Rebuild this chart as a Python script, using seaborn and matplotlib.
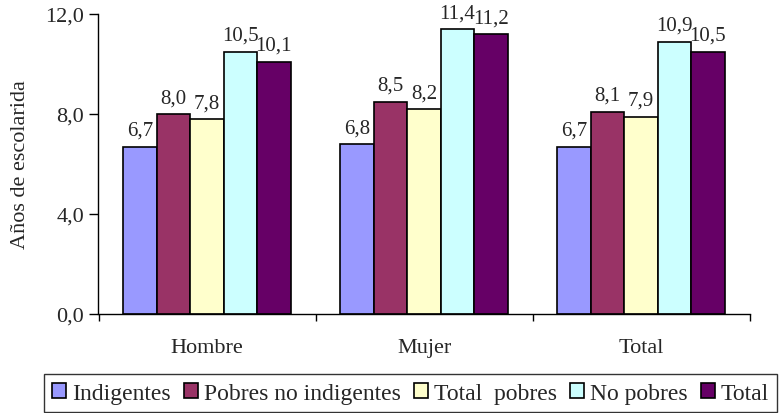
import pandas as pd
import matplotlib.pyplot as plt
import seaborn as sns

# Data
categorias = ['Hombre', 'Mujer', 'Total']
series = ['Indigentes', 'Pobres no indigentes', 'Total  pobres', 'No pobres', 'Total']
indigentes = [6.7, 6.8, 6.7]
pobres_no_indigentes = [8.0, 8.5, 8.1]
total_pobres = [7.8, 8.2, 7.9]
no_pobres = [10.5, 11.4, 10.9]
total = [10.1, 11.2, 10.5]
colores = ['#9999FF', '#993366', '#FFFFCC', '#CCFFFF', '#660066']

valores = [indigentes, pobres_no_indigentes, total_pobres, no_pobres, total]
rows = []
for serie, vals in zip(series, valores):
    for cat, v in zip(categorias, vals):
        rows.append({'Sexo': cat, 'Grupo': serie, 'Años': v})
df = pd.DataFrame(rows)

sns.set_style('white')
plt.rcParams['font.family'] = ['Liberation Serif', 'DejaVu Serif']

W, H = 779, 414
fig = plt.figure(figsize=(W / 100, H / 100), dpi=100)
ax = fig.add_axes([98.5 / W, 1 - 315 / H, 651 / W, 300 / H])

sns.barplot(data=df, x='Sexo', y='Años', hue='Grupo', hue_order=series,
            palette=colores, saturation=1, width=0.77, gap=0, edgecolor='black',
            linewidth=1.2, ax=ax, legend=False)

for cont in ax.containers:
    ax.bar_label(cont, labels=[f'{b.get_height():.1f}'.replace('.', ',') for b in cont],
                 padding=5, fontsize=15)

ax.set_ylim(0, 12)
ax.set_yticks([0, 4, 8, 12])
ax.set_yticklabels(['0,0', '4,0', '8,0', '12,0'], fontsize=16)
ax.set_xlim(-0.5, 2.5)
ax.set_xticks([0, 1, 2])
ax.set_xticklabels(categorias, fontsize=16)
ax.set_xticks([-0.5, 0.5, 1.5, 2.5], minor=True)
ax.tick_params(axis='x', which='major', bottom=False, length=0, pad=17)
ax.tick_params(axis='x', which='minor', bottom=True, direction='out', length=5,
               width=1, color='black')
ax.tick_params(axis='y', left=True, direction='out', length=6.5, width=1,
               color='black', pad=4)
ax.set_xlabel('')
ax.set_ylabel('Años de escolarida', fontsize=16)
ax.yaxis.set_label_coords(-0.105, 0.5)

for side in ['top', 'right']:
    ax.spines[side].set_visible(False)
for side in ['left', 'bottom']:
    ax.spines[side].set_color('black')
    ax.spines[side].set_linewidth(1)

handles = [plt.Rectangle((0, 0), 1, 1, facecolor=c, edgecolor='black', linewidth=1.2)
           for c in colores]
leg = fig.legend(handles, series, loc='lower left', bbox_to_anchor=(44 / W, 1 / H),
                 ncol=5, prop={'family': 'Liberation Serif', 'size': 17},
                 frameon=True, fancybox=False,
                 handlelength=0.6, handleheight=0.6, handletextpad=0.25,
                 columnspacing=0.55, borderpad=0.35, borderaxespad=0)
leg.get_frame().set_edgecolor('black')
leg.get_frame().set_linewidth(1)

plt.savefig('out.png', dpi=100)
